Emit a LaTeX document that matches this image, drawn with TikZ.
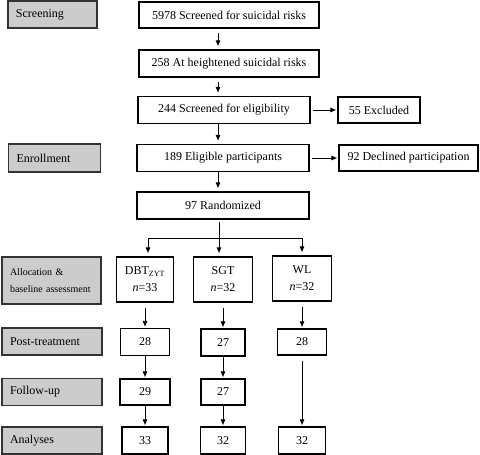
\documentclass[tikz,border=0pt]{standalone}
\usepackage{fontspec}
\setmainfont{Liberation Serif}
\usetikzlibrary{arrows.meta}
\begin{document}
\begin{tikzpicture}[x=1pt, y=-1pt, >={Latex[length=6pt,width=5pt]}, line width=0.8pt,
stage node/.style={draw=black!80, fill=black!20, line width=1.3pt, inner xsep=8pt, inner ysep=0pt, align=left, font=\fontsize{12}{14}\selectfont},
flow node/.style={draw, line width=1.2pt, inner sep=0pt, align=center, font=\fontsize{12}{14}\selectfont},
gap/.style={->, shorten <=4pt, shorten >=3pt}]
\useasboundingbox (0,0) rectangle (480,455);
% stages on the left
\begin{scope}[every node/.style={stage node}]
\node[text width=73pt, minimum height=27pt] (screen) at (52.5,14.5) {Screening};
\node[text width=76pt, minimum height=28pt] (enrol) at (54.5,158) {Enrollment};
\node[text width=83pt, minimum height=47pt, font=\fontsize{10}{17}\selectfont] (alloc) at (51.5,280.5) {Allocation \&\\baseline assessment};
\node[text width=84pt, minimum height=27pt] (post) at (52,341.5) {Post-treatment};
\node[text width=84pt, minimum height=27pt] (follow) at (52,392) {Follow-up};
\node[text width=84pt, minimum height=27pt] (anal) at (52,440.5) {Analyses};
\end{scope}
% flow boxes
\begin{scope}[every node/.style={flow node}]
\node[minimum width=180pt, minimum height=26pt] (s1) at (229,15) {5978 Screened for suicidal risks};
\node[minimum width=180pt, minimum height=27pt] (s2) at (229,63.5) {258 At heightened suicidal risks};
\node[minimum width=172pt, minimum height=27pt] (s3) at (224,110) {244 Screened for eligibility};
\node[minimum width=82pt, minimum height=26pt] (excl) at (379,110) {55 Excluded};
\node[minimum width=172pt, minimum height=27pt] (elig) at (223,158) {189 Eligible participants};
\node[minimum width=139pt, minimum height=26pt] (decl) at (408.5,158) {92 Declined participation};
\node[minimum width=172pt, minimum height=27pt] (rand) at (223,205.5) {97 Randomized};
% arms
\node[minimum width=57pt, minimum height=45pt] (dbt) at (145,279.5) {DBT\textsubscript{ZYT}\\[3pt]\textit{n}=33};
\node[minimum width=59pt, minimum height=45pt] (sgt) at (223,279.5) {SGT\\[3pt]\textit{n}=32};
\node[minimum width=59pt, minimum height=45pt] (wl) at (302,278.5) {WL\\[3pt]\textit{n}=32};
\node[minimum width=49pt, minimum height=27pt] (d28) at (145,342) {28};
\node[minimum width=44pt, minimum height=27pt] (g27a) at (223,342.5) {27};
\node[minimum width=49pt, minimum height=26pt] (w28) at (302,342) {28};
\node[minimum width=50pt, minimum height=26pt] (d29) at (145,392) {29};
\node[minimum width=44pt, minimum height=26pt] (g27b) at (223,392) {27};
\node[minimum width=46pt, minimum height=27pt] (d33) at (145,440.5) {33};
\node[minimum width=45pt, minimum height=27pt] (g32) at (223,440.5) {32};
\node[minimum width=47pt, minimum height=27pt] (w32) at (302,440.5) {32};
\end{scope}
\coordinate (spine) at (218,0);
\coordinate (bl) at (148,238);
\coordinate (bm) at (219,238);
\coordinate (br) at (302,238);
% connectors
\begin{scope}
\draw[gap] (s1.south -| spine) -- (s2.north -| spine);
\draw[gap] (s2.south -| spine) -- (s3.north -| spine);
\draw[gap, shorten <=0pt] (s3.south -| spine) -- (elig.north -| spine);
\draw[gap, shorten <=0pt] (elig.south -| spine) -- (rand.north -| spine);
\draw[gap, shorten <=2pt, shorten >=1pt] (s3) -- (excl);
\draw[gap, shorten <=2pt, shorten >=1pt] (elig) -- (decl);
\draw[shorten <=2pt] (rand.south -| bm) -- (bm);
\draw (bl) -- (br);
\draw[gap, shorten <=0pt] (bl) -- (bl |- dbt.north);
\draw[gap, shorten <=0pt] (bm) -- (bm |- sgt.north);
\draw[gap, shorten <=0pt] (br) -- (wl.north);
\draw[gap, shorten <=5pt, shorten >=1pt] (dbt) -- (d28);
\draw[gap, shorten <=5pt, shorten >=1pt] (sgt) -- (g27a);
\draw[gap, shorten <=5pt, shorten >=1pt] (wl) -- (w28);
\draw[gap, shorten <=0pt, shorten >=1pt] (d28) -- (d29);
\draw[gap, shorten <=0pt, shorten >=1pt] (g27a) -- (g27b);
\draw[gap, shorten <=0pt, shorten >=1pt] (d29) -- (d33);
\draw[gap, shorten <=0pt, shorten >=1pt] (g27b) -- (g32);
\draw[gap, shorten <=5pt, shorten >=1pt] (w28) -- (w32);
\end{scope}
\end{tikzpicture}
\end{document}
